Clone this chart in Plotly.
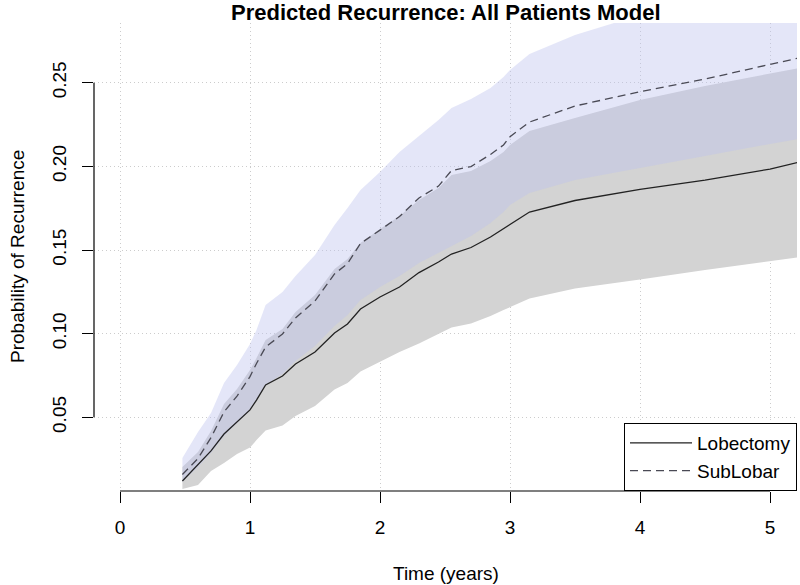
import plotly.graph_objects as go

# ---- data ----
time_years = [0.48, 0.6, 0.7, 0.8, 0.9, 1.0, 1.05, 1.12, 1.25, 1.35, 1.5, 1.65, 1.75, 1.85,
              2.0, 2.15, 2.3, 2.45, 2.55, 2.7, 2.85, 2.95, 3.0, 3.15, 3.5, 4.0, 4.5, 5.0, 5.21]

lobectomy_est = [0.0119, 0.0215, 0.0299, 0.0400, 0.0469, 0.0544, 0.0603, 0.0693, 0.0747, 0.0819,
                 0.0890, 0.1004, 0.1058, 0.1147, 0.1219, 0.1279, 0.1365, 0.1428, 0.1476, 0.1515,
                 0.1578, 0.1628, 0.1655, 0.1727, 0.1796, 0.1862, 0.1918, 0.1984, 0.2023]
lobectomy_lo = [0.0071, 0.0095, 0.0179, 0.0227, 0.0281, 0.0319, 0.0364, 0.0421, 0.0451, 0.0508,
                0.0568, 0.0666, 0.0705, 0.0774, 0.0832, 0.0890, 0.0941, 0.0998, 0.1037, 0.1061,
                0.1105, 0.1141, 0.1161, 0.1210, 0.1270, 0.1324, 0.1380, 0.1434, 0.1456]
lobectomy_hi = [0.0203, 0.0293, 0.0418, 0.0579, 0.0669, 0.0783, 0.0854, 0.0962, 0.1028, 0.1129,
                0.1231, 0.1386, 0.1446, 0.1542, 0.1625, 0.1703, 0.1799, 0.1871, 0.1948, 0.1972,
                0.2032, 0.2086, 0.2128, 0.2211, 0.2289, 0.2397, 0.2480, 0.2552, 0.2586]

sublobar_est = [0.0158, 0.0254, 0.0379, 0.0532, 0.0627, 0.0743, 0.0822, 0.0920, 0.0998, 0.1094,
                0.1195, 0.1357, 0.1419, 0.1539, 0.1619, 0.1700, 0.1811, 0.1882, 0.1975, 0.1999,
                0.2071, 0.2128, 0.2177, 0.2265, 0.2361, 0.2446, 0.2522, 0.2612, 0.2646]
sublobar_lo = [0.0113, 0.0203, 0.0287, 0.0388, 0.0466, 0.0544, 0.0603, 0.0693, 0.0759, 0.0837,
               0.0926, 0.1046, 0.1111, 0.1201, 0.1279, 0.1345, 0.1422, 0.1482, 0.1524, 0.1584,
               0.1661, 0.1727, 0.1769, 0.1841, 0.1918, 0.1990, 0.2062, 0.2134, 0.2162]
sublobar_hi = [0.0257, 0.0412, 0.0526, 0.0705, 0.0813, 0.0938, 0.1022, 0.1171, 0.1249, 0.1345,
               0.1470, 0.1649, 0.1751, 0.1859, 0.1966, 0.2086, 0.2181, 0.2277, 0.2349, 0.2402,
               0.2468, 0.2534, 0.2576, 0.2671, 0.2785, 0.2905, 0.2965, 0.3025, 0.3049]

x_ticks = [0, 1, 2, 3, 4, 5]
y_ticks = [0.05, 0.10, 0.15, 0.20, 0.25]
y_tick_labels = ["0.05", "0.10", "0.15", "0.20", "0.25"]

FONT = "Liberation Sans, Arial, Helvetica, sans-serif"

fig = go.Figure()

# Lobectomy CI band (gray)
fig.add_trace(go.Scatter(x=time_years + time_years[::-1],
                         y=lobectomy_hi + lobectomy_lo[::-1],
                         fill="toself", fillcolor="rgb(211,211,211)",
                         line=dict(width=0), mode="lines", hoverinfo="skip",
                         showlegend=False))
# SubLobar CI band (translucent blue)
fig.add_trace(go.Scatter(x=time_years + time_years[::-1],
                         y=sublobar_hi + sublobar_lo[::-1],
                         fill="toself", fillcolor="rgba(189,194,238,0.41)",
                         line=dict(width=0), mode="lines", hoverinfo="skip",
                         showlegend=False))
# estimate lines
fig.add_trace(go.Scatter(x=time_years, y=lobectomy_est, mode="lines", name="Lobectomy",
                         line=dict(color="#222222", width=1.3)))
fig.add_trace(go.Scatter(x=time_years, y=sublobar_est, mode="lines", name="SubLobar",
                         line=dict(color="#4a4a55", width=1.3, dash="8px,5px")))

# R-style axis lines spanning first..last tick
fig.add_shape(type="line", xref="x", yref="paper", x0=x_ticks[0], x1=x_ticks[-1], y0=0, y1=0,
              line=dict(color="black", width=1.2))
fig.add_shape(type="line", xref="paper", yref="y", x0=0, x1=0, y0=y_ticks[0], y1=y_ticks[-1],
              line=dict(color="black", width=1.2))

grid = dict(showgrid=True, gridcolor="#cccccc", griddash="1px,3px", gridwidth=1)

fig.update_layout(
    width=800, height=585,
    margin=dict(l=94, r=3, t=23, b=94),
    paper_bgcolor="white", plot_bgcolor="white",
    font=dict(family=FONT, color="black", size=19),
    xaxis=dict(range=[-0.2, 5.2077], tickvals=x_ticks, ticktext=[str(v) for v in x_ticks],
               ticks="outside", ticklen=11, tickwidth=1.2, tickcolor="black",
               showline=False, zeroline=False, tickfont=dict(size=19),
               ticklabelstandoff=8, **grid),
    yaxis=dict(range=[0.00595, 0.2857], tickvals=y_ticks, ticktext=y_tick_labels,
               ticks="outside", ticklen=11, tickwidth=1.2, tickcolor="black",
               showline=False, zeroline=False, tickangle=-90, tickfont=dict(size=19),
               ticklabelstandoff=8, **grid),
    legend=dict(x=1, y=0, xanchor="right", yanchor="bottom",
                bordercolor="black", borderwidth=1, bgcolor="white",
                font=dict(size=19, family=FONT), itemwidth=62),
    showlegend=True,
    annotations=[
        dict(text="<b>Predicted Recurrence: All Patients Model</b>", xref="paper", yref="paper",
             x=0.5, y=(491 - 12) / 468, xanchor="center", yanchor="middle", showarrow=False,
             font=dict(size=22, family=FONT)),
        dict(text="Time (years)", xref="paper", yref="paper", x=0.5, y=(491 - 573) / 468,
             xanchor="center", yanchor="middle", showarrow=False, font=dict(size=19, family=FONT)),
        dict(text="Probability of Recurrence", xref="paper", yref="paper",
             x=(17 - 94) / 703, y=0.5, xanchor="center", yanchor="middle", textangle=-90,
             showarrow=False, font=dict(size=19, family=FONT)),
    ],
)

fig.write_html("out.html",
               config={"displayModeBar": False},
               post_script="document.body.style.margin='0';document.body.style.padding='0';"
                           "document.documentElement.style.overflow='hidden';")
